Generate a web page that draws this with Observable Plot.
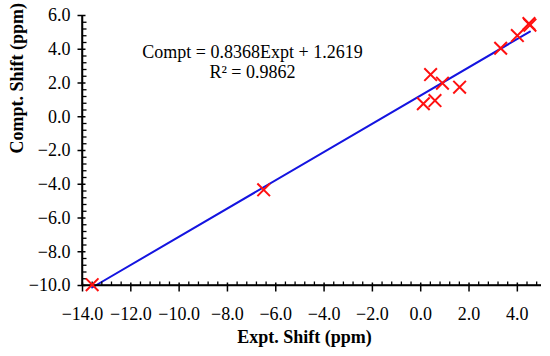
<!DOCTYPE html>
<html><head><meta charset="utf-8">
<script src="https://cdn.jsdelivr.net/npm/d3@7"></script>
<script src="https://cdn.jsdelivr.net/npm/@observablehq/plot@0.6"></script>
<style>body{margin:0;background:#fff} svg{display:block}</style>
</head><body><div id="chart"></div>
<script>
const exptShift     = [-13.6, -6.5, 0.11, 0.41, 0.59, 0.90, 1.61, 3.31, 4.00, 4.48, 4.52];
const computedShift = [-9.95, -4.33, 0.77, 2.50, 0.96, 1.99, 1.75, 4.06, 4.81, 5.52, 5.43];
const xTicks = [-14, -12, -10, -8, -6, -4, -2, 0, 2, 4];
const yTicks = [-10, -8, -6, -4, -2, 0, 2, 4, 6];
const fitSlope = 0.8368, fitIntercept = 1.2619, fitR2 = 0.9862;
const xTitle = "Expt. Shift (ppm)";
const yTitle = "Compt. Shift (ppm)";

const points = exptShift.map((x, i) => ({x, y: computedShift[i]}));
const fitLine = d3.extent(exptShift).map(x => ({x, y: fitSlope * x + fitIntercept}));
const fmt = d => (d < 0 ? "\u2212" : "") + Math.abs(d).toFixed(1);
const isMajor = v => Math.abs(v / 2 - Math.round(v / 2)) < 1e-6;
const xMinor = d3.range(-14, 5.01, 0.4).map(v => +v.toFixed(1)).filter(v => !isMajor(v));
const yMinor = d3.range(-10, 6.01, 0.4).map(v => +v.toFixed(1)).filter(v => !isMajor(v));
const xMajorT = xTicks.map(v => ({x: v, y: -10}));
const xMinorT = xMinor.map(v => ({x: v, y: -10}));
const yMajorT = yTicks.map(v => ({x: -14, y: v}));
const yMinorT = yMinor.map(v => ({x: -14, y: v}));
const axisLines = [{x1: -14, x2: 5, y1: -10, y2: -10, h: true}, {x1: -14, x2: -14, y1: -10, y2: 6, h: false}];
const eqText = `Compt = ${fitSlope.toFixed(4)}Expt + ${fitIntercept.toFixed(4)}\nR\u00b2 = ${fitR2.toFixed(4)}`;
// filled thin bars as tick symbols (fixed pixel size)
const segV = (a, b, w) => ({draw(ctx) { ctx.rect(-w / 2, a, w, b - a); }});
const segH = (a, b, w) => ({draw(ctx) { ctx.rect(a, -w / 2, b - a, w); }});

const chart = Plot.plot({
  width: 550, height: 356,
  marginLeft: 82, marginRight: 9, marginTop: 15, marginBottom: 71,
  style: {fontFamily: "'Liberation Serif', 'Times New Roman', serif", fontSize: "18px", background: "#fff", color: "#000"},
  x: {domain: [-14, 5]},
  y: {domain: [-10, 6]},
  marks: [
    Plot.axisX({ticks: xTicks, tickSize: 0, tickPadding: 22, tickFormat: fmt, label: null, fontSize: 18}),
    Plot.axisY({ticks: yTicks, tickSize: 0, tickPadding: 12, tickFormat: fmt, label: null, fontSize: 18}),
    Plot.line(fitLine, {x: "x", y: "y", stroke: "#1414e0", strokeWidth: 2}),
    Plot.ruleY([-10], {stroke: "#000", strokeWidth: 1.5}),
    Plot.ruleX([-14], {stroke: "#000", strokeWidth: 1.5}),
    Plot.rect(axisLines.filter(d => d.h), {x1: "x1", x2: "x2", y1: "y1", y2: "y2", insetTop: -0.75, insetBottom: -0.75, fill: "#000"}),
    Plot.rect(axisLines.filter(d => !d.h), {x1: "x1", x2: "x2", y1: "y1", y2: "y2", insetLeft: -0.75, insetRight: -0.75, fill: "#000"}),
    Plot.dot(xMajorT, {x: "x", y: "y", symbol: segV(-3, 6, 1.5), fill: "#000", stroke: "none"}),
    Plot.dot(xMinorT, {x: "x", y: "y", symbol: segV(-4, 0, 1.3), fill: "#000", stroke: "none"}),
    Plot.dot(yMajorT, {x: "x", y: "y", symbol: segH(-5, 3, 1.5), fill: "#000", stroke: "none"}),
    Plot.dot(yMinorT, {x: "x", y: "y", symbol: segH(0, 4, 1.3), fill: "#000", stroke: "none"}),
    Plot.dot(points, {x: "x", y: "y", symbol: "times", r: 5.8, stroke: "#ff1010", strokeWidth: 2}),
    Plot.text([eqText], {text: d => d, frameAnchor: "top-left", dx: 170, dy: 28, textAnchor: "middle", lineAnchor: "top", lineHeight: 1.11, fontSize: 18, fill: "#000"}),
    Plot.text([xTitle], {text: d => d, frameAnchor: "bottom", dx: -7.5, dy: 57, fontWeight: "bold", fontSize: 18, fill: "#000"}),
    Plot.text([yTitle], {text: d => d, frameAnchor: "left", dx: -65, dy: 3, rotate: -90, fontWeight: "bold", fontSize: 18, fill: "#000"})
  ]
});
document.getElementById("chart").appendChild(chart);
</script>
</body></html>
